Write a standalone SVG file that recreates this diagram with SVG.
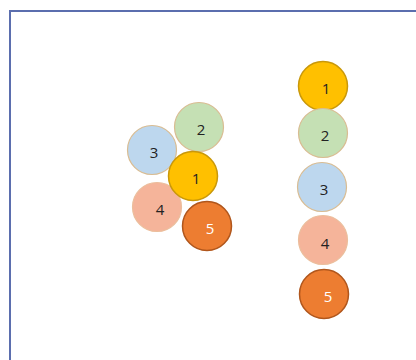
<svg xmlns="http://www.w3.org/2000/svg" width="416" height="360" viewBox="0 0 416 360">
<style>
.c1{fill:#FFC000;stroke:#C9980A;stroke-width:1.5}
.c2{fill:#C5E0B4;stroke:#D9BC92;stroke-width:1.2}
.c3{fill:#BDD7EE;stroke:#D9BC92;stroke-width:1.2}
.c4{fill:#F5B49A;stroke:#EBBE9C;stroke-width:1.2}
.c5{fill:#ED7D31;stroke:#B0561C;stroke-width:1.5}
text{font-family:"Open Sans","Liberation Sans",sans-serif;font-size:15px;text-anchor:middle;dominant-baseline:central;fill:#222}
.w{fill:#fff}
</style>
<rect x="0" y="0" width="416" height="360" fill="#fff"/>
<rect x="10" y="11" width="420" height="360" fill="none" stroke="#5B6EAE" stroke-width="2"/>
<g id="connectors"/>
<g id="L2"><circle class="c2" cx="199" cy="127" r="24.5"/><text x="201" y="129">2</text></g>
<g id="L3"><circle class="c3" cx="152" cy="150" r="24.5"/><text x="154" y="152">3</text></g>
<g id="L4"><circle class="c4" cx="157" cy="207" r="24.5"/><text x="160" y="209">4</text></g>
<g id="L1"><circle class="c1" cx="193" cy="176" r="24.5"/><text x="196" y="178">1</text></g>
<g id="L5"><circle class="c5" cx="207" cy="226" r="24.5"/><text class="w" x="210" y="228">5</text></g>
<g id="R1"><circle class="c1" cx="323" cy="86" r="24.5"/><text x="326" y="88">1</text></g>
<g id="R2"><circle class="c2" cx="323" cy="133" r="24.5"/><text x="325" y="135">2</text></g>
<g id="R3"><circle class="c3" cx="322" cy="187" r="24.5"/><text x="324" y="189">3</text></g>
<g id="R4"><circle class="c4" cx="323" cy="240" r="24.5"/><text x="325" y="243">4</text></g>
<g id="R5"><circle class="c5" cx="324" cy="294" r="24.5"/><text class="w" x="328" y="296">5</text></g>
</svg>
